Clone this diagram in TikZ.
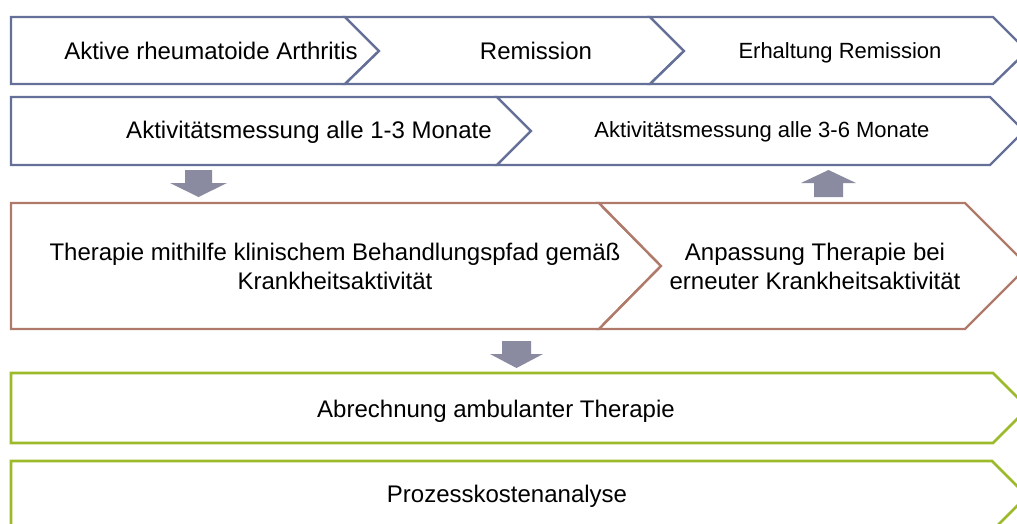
\documentclass[tikz,border=0pt]{standalone}
\usepackage{fontspec}
\setmainfont{Liberation Sans}
\definecolor{bluegrey}{RGB}{100,112,152}
\definecolor{brownred}{RGB}{176,122,106}
\definecolor{limegreen}{RGB}{156,186,42}
\definecolor{arrowgrey}{RGB}{138,138,160}
\begin{document}
\begin{tikzpicture}[x=1pt,y=-1pt,
  bluebox/.style={draw=bluegrey,line width=2.4pt,line join=miter,fill=white},
  brownbox/.style={draw=brownred,line width=2.4pt,line join=miter,fill=white},
  greenbox/.style={draw=limegreen,line width=2.6pt,line join=miter,fill=white},
  blockarrow/.style={fill=arrowgrey,draw=none},
  lbl/.style={inner sep=0pt,align=center,font=\fontsize{24}{29}\selectfont},
  lblsmall/.style={inner sep=0pt,align=center,font=\fontsize{22}{27}\selectfont}]
\useasboundingbox (0,0) rectangle (1017,523);
% Row 1
\draw[bluebox] (11,17) -- (345,17) -- (379,51) -- (345,84) -- (11,84) -- cycle;
\draw[bluebox] (345,17) -- (650,17) -- (684,51) -- (650,84) -- (345,84) -- (379,51) -- cycle;
\draw[bluebox] (650,17) -- (993,17) -- (1027,51) -- (993,84) -- (650,84) -- (684,51) -- cycle;
\node[lbl,anchor=base] (r1a) at (211,59) {Aktive rheumatoide Arthritis};
\node[lbl,anchor=base] (r1b) at (536,59) {Remission};
\node[lblsmall,anchor=base] (r1c) at (840,58) {Erhaltung Remission};
% Row 2
\draw[bluebox] (11,97) -- (497,97) -- (531,131) -- (497,165) -- (11,165) -- cycle;
\draw[bluebox] (497,97) -- (990,97) -- (1024,131) -- (990,165) -- (497,165) -- (531,131) -- cycle;
\node[lbl,anchor=base] (r2a) at (309,138) {Aktivitätsmessung alle 1-3 Monate};
\node[lblsmall,anchor=base] (r2b) at (762,137.5) {Aktivitätsmessung alle 3-6 Monate};
% Row 3
\draw[brownbox] (11,203) -- (599,203) -- (661,266) -- (599,329) -- (11,329) -- cycle;
\draw[brownbox] (599,203) -- (965,203) -- (1028,266) -- (965,329) -- (599,329) -- (661,266) -- cycle;
\node[lbl] (r3a) at (335,266) {Therapie mithilfe klinischem Behandlungspfad gemäß\\Krankheitsaktivität};
\node[lbl] (r3b) at (815,266) {Anpassung Therapie bei\\erneuter Krankheitsaktivität};
% Row 4
\draw[greenbox] (11,373) -- (993,373) -- (1028,408) -- (993,443) -- (11,443) -- cycle;
\node[lbl,anchor=base] (r4) at (496,417) {Abrechnung ambulanter Therapie};
% Row 5
\draw[greenbox] (11,461) -- (992,461) -- (1027,496) -- (992,531) -- (11,531) -- cycle;
\node[lbl,anchor=base] (r5) at (507,502) {Prozesskostenanalyse};
% Block arrows
\fill[blockarrow] (185,170) -- (212,170) -- (212,183) -- (227,183) -- (198.5,197) -- (170,183) -- (185,183) -- cycle;
\fill[blockarrow] (814,197) -- (843,197) -- (843,183) -- (856,183) -- (828.5,170) -- (801,183) -- (814,183) -- cycle;
\fill[blockarrow] (502,341) -- (531,341) -- (531,354) -- (543,354) -- (516.5,368) -- (490,354) -- (502,354) -- cycle;
\end{tikzpicture}
\end{document}
